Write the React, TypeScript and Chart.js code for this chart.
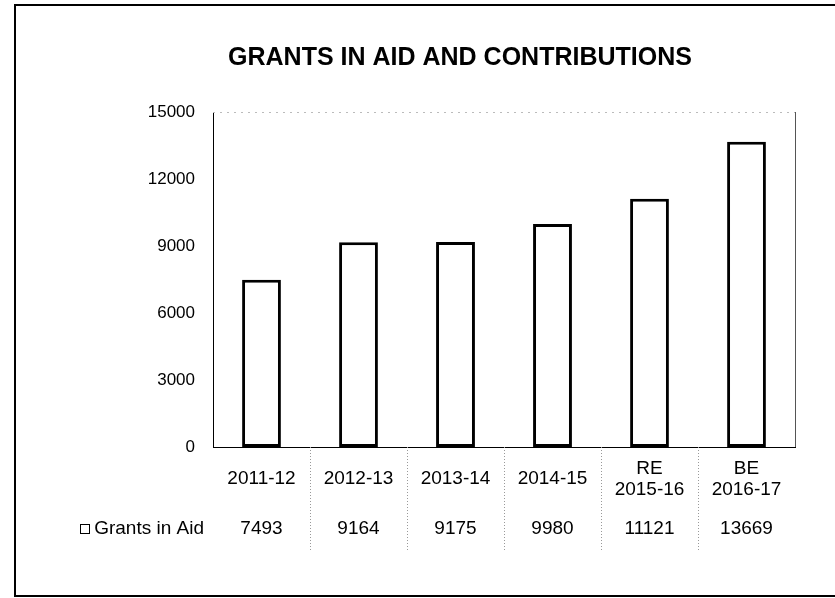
import React, { useEffect, useRef } from "react";
import { Chart, registerables } from "chart.js";

Chart.register(...registerables);

const categories: string[][] = [
  ["2011-12"],
  ["2012-13"],
  ["2013-14"],
  ["2014-15"],
  ["RE", "2015-16"],
  ["BE", "2016-17"],
];
const seriesName = "Grants in Aid";
const grantsInAid: number[] = [7493, 9164, 9175, 9980, 11121, 13669];
const yTicks: number[] = [0, 3000, 6000, 9000, 12000, 15000];
const chartTitle = "GRANTS IN AID AND CONTRIBUTIONS";

const FONT = "'Liberation Sans', Arial, sans-serif";

const decorPlugin = {
  id: "decor",
  beforeDraw(chart: any) {
    const ctx = chart.ctx;
    ctx.save();
    ctx.fillStyle = "#ffffff";
    ctx.fillRect(0, 0, chart.width, chart.height);
    ctx.restore();
  },
  afterDraw(chart: any) {
    const ctx = chart.ctx;
    const xs = chart.scales.x;
    const area = chart.chartArea;
    ctx.save();
    // outer frame
    ctx.strokeStyle = "#000";
    ctx.lineWidth = 2;
    ctx.strokeRect(15, 5, 830, 591);

    // title
    ctx.fillStyle = "#000";
    ctx.font = `bold 25px ${FONT}`;
    ctx.textAlign = "center";
    ctx.textBaseline = "middle";
    ctx.fillText(chartTitle, 460, 58);

    // plot top / right edges
    ctx.lineWidth = 1;
    ctx.strokeStyle = "#555";
    ctx.beginPath();
    ctx.moveTo(area.right + 0.5, area.top);
    ctx.lineTo(area.right + 0.5, area.bottom);
    ctx.stroke();
    ctx.strokeStyle = "#bbb";
    ctx.setLineDash([2, 5]);
    ctx.beginPath();
    ctx.moveTo(area.left, area.top + 0.5);
    ctx.lineTo(area.right, area.top + 0.5);
    ctx.stroke();

    // table column separators
    ctx.strokeStyle = "#999";
    ctx.setLineDash([1, 2]);
    const n = categories.length;
    for (let i = 1; i < n; i++) {
      const xb = (xs.getPixelForValue(i - 1) + xs.getPixelForValue(i)) / 2;
      ctx.beginPath();
      ctx.moveTo(Math.round(xb) + 0.5, area.bottom);
      ctx.lineTo(Math.round(xb) + 0.5, 550);
      ctx.stroke();
    }
    ctx.setLineDash([]);

    // category labels
    ctx.font = `19px ${FONT}`;
    ctx.fillStyle = "#000";
    ctx.textAlign = "center";
    ctx.textBaseline = "middle";
    const lineH = 21;
    const midY = 479;
    categories.forEach((lines, i) => {
      const x = xs.getPixelForValue(i);
      const start = midY - ((lines.length - 1) * lineH) / 2;
      lines.forEach((t, j) => ctx.fillText(t, x, start + j * lineH));
    });

    // data row
    const rowY = 529;
    grantsInAid.forEach((v, i) => {
      ctx.fillText(String(v), xs.getPixelForValue(i), rowY);
    });

    // legend key
    ctx.textAlign = "right";
    ctx.fillText(seriesName, 204, rowY);
    const w = ctx.measureText(seriesName).width;
    ctx.strokeStyle = "#000";
    ctx.lineWidth = 1;
    ctx.strokeRect(Math.round(204 - w - 14) + 0.5, rowY - 4.5, 9, 9);
    ctx.restore();
  },
};

export default function App() {
  const ref = useRef<HTMLCanvasElement | null>(null);
  useEffect(() => {
    if (!ref.current) return;
    const chart = new Chart(ref.current, {
      type: "bar",
      data: {
        labels: categories,
        datasets: [
          {
            label: seriesName,
            data: grantsInAid,
            backgroundColor: "#ffffff",
            borderColor: "#000000",
            borderWidth: 3,
            borderSkipped: false,
            barPercentage: 0.4,
            categoryPercentage: 1,
          },
        ],
      },
      options: {
        responsive: false,
        animation: false,
        maintainAspectRatio: false,
        layout: { padding: { top: 112, right: 40, left: 0, bottom: 0 } },
        plugins: {
          legend: { display: false },
          title: { display: false },
          tooltip: { enabled: false },
        },
        scales: {
          x: {
            grid: { display: false },
            border: { display: true, color: "#000", width: 1 },
            ticks: { display: false },
            afterFit(axis: any) {
              axis.height = 151;
            },
          },
          y: {
            min: 0,
            max: 15000,
            afterBuildTicks(axis: any) {
              axis.ticks = yTicks.map((v) => ({ value: v }));
            },
            grid: { display: false, drawTicks: false },
            border: { display: true, color: "#000", width: 1 },
            ticks: {
              color: "#000",
              font: { family: FONT, size: 17 },
              padding: 18,
              callback: (v: any) => String(v),
            },
            afterFit(axis: any) {
              axis.width = 213;
            },
          },
        },
      },
      plugins: [decorPlugin],
    });
    return () => chart.destroy();
  }, []);
  return (
    <div style={{ position: "absolute", left: 0, top: 0, width: 835, height: 598 }}>
      <canvas ref={ref} width={835} height={598} style={{ width: 835, height: 598 }} />
    </div>
  );
}
